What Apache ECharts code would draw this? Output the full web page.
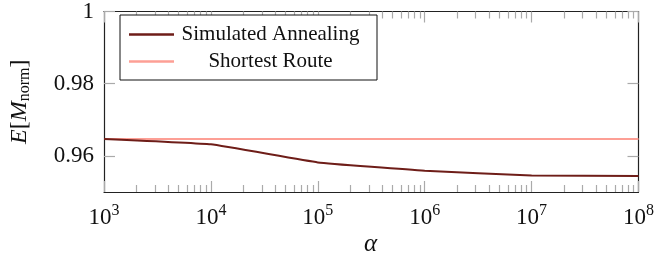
<!DOCTYPE html>
<html>
<head>
<meta charset="utf-8">
<script src="https://cdn.jsdelivr.net/npm/echarts@6/dist/echarts.min.js"></script>
<style>
  html, body { margin: 0; padding: 0; background: #fff; }
  #chart { width: 657px; height: 261px; }
</style>
</head>
<body>
<div id="chart"></div>
<script>
const alpha = [1e3, 1e4, 1e5, 1e6, 1e7, 1e8];
const simulatedAnnealing = [0.9647, 0.9632, 0.9582, 0.9559, 0.9546, 0.9544];
const shortestRoute = [0.9647, 0.9647, 0.9647, 0.9647, 0.9647, 0.9647];
const yTicks = [0.96, 0.98, 1];
const decades = [3, 4, 5, 6, 7];
const minorSteps = [2, 3, 4, 5, 6, 7, 8, 9];

// minor tick positions in log10 space
let minorTicks = [];
decades.forEach(d => {
  minorSteps.forEach(m => minorTicks.push(d + Math.log10(m)));
});

const font = "Liberation Serif";
const tickColor = "#aaaaaa";
const frameColor = "#222222";

const majorX = (pos, showLabel) => ({
  type: "log",
  logBase: 10,
  min: 1e3,
  max: 1e8,
  interval: 1,
  position: pos,
  axisLine: { show: true, onZero: false, lineStyle: { color: frameColor, width: 1.2 } },
  axisTick: { show: true, inside: true, length: 11, lineStyle: { color: tickColor, width: 1.2 } },
  splitLine: { show: false },
  minorTick: { show: false },
  axisLabel: {
    show: showLabel,
    margin: 11,
    fontFamily: font,
    color: "#111",
    formatter: v => "{b|10}{sup|" + Math.round(Math.log10(v)) + "}",
    rich: {
      b: { fontSize: 23, fontFamily: font, color: "#111" },
      sup: { fontSize: 16, fontFamily: font, color: "#111", padding: [0, 0, 13, 0] },
    },
  },
});

const minorX = (pos) => ({
  type: "value",
  min: 3,
  max: 8,
  position: pos,
  axisLine: { show: false },
  axisLabel: { show: false },
  splitLine: { show: false },
  axisTick: {
    show: true,
    inside: true,
    length: 7,
    customValues: minorTicks,
    lineStyle: { color: tickColor, width: 1.2 },
  },
});

const yAxisCfg = (pos, showLabel) => ({
  type: "value",
  min: 0.95,
  max: 1,
  position: pos,
  name: showLabel ? "{i|E}{n|[}{i|M}{sub|norm}{n|]}" : "",
  nameLocation: "middle",
  nameRotate: 90,
  nameGap: 71,
  nameTextStyle: {
    rich: {
      i: { fontSize: 24, fontFamily: font, fontStyle: "italic", color: "#111" },
      n: { fontSize: 24, fontFamily: font, color: "#111" },
      sub: { fontSize: 16, fontFamily: font, color: "#111", padding: [10, 0, 0, 0] },
    },
  },
  axisLine: { show: true, lineStyle: { color: frameColor, width: 1.2 } },
  axisTick: {
    show: true,
    inside: true,
    length: 11,
    customValues: yTicks,
    lineStyle: { color: tickColor, width: 1.2 },
  },
  splitLine: { show: false },
  axisLabel: {
    show: showLabel,
    customValues: yTicks,
    margin: 10,
    fontSize: 23,
    fontFamily: font,
    color: "#111",
    formatter: v => String(parseFloat(v.toFixed(2))),
  },
});

const option = {
  animation: false,
  backgroundColor: "#fff",
  grid: { left: 103, right: 15, top: 10, bottom: 69, containLabel: false },
  legend: {
    orient: "vertical",
    left: 120,
    top: 15,
    backgroundColor: "#fff",
    borderColor: "#111",
    borderWidth: 1,
    padding: [9, 15, 8, 9],
    itemGap: 6,
    itemWidth: 45,
    itemHeight: 2.5,
    icon: "rect",
    textStyle: { fontFamily: font, fontSize: 21, color: "#111" },
    formatter: name => "{c|" + name + "}",
    data: ["Simulated Annealing", "Shortest Route"],
  },
  xAxis: [majorX("bottom", true), minorX("bottom"), majorX("top", false), minorX("top")],
  yAxis: [yAxisCfg("left", true), yAxisCfg("right", false)],
  graphic: [
    {
      type: "text",
      left: 364,
      top: 232,
      style: { text: "α", fontSize: 25, fontFamily: font, fontStyle: "italic", fill: "#111" },
    },
  ],
  series: [
    {
      name: "Shortest Route",
      type: "line",
      xAxisIndex: 0,
      yAxisIndex: 0,
      symbol: "none",
      data: alpha.map((a, i) => [a, shortestRoute[i]]),
      lineStyle: { color: "#fd9f95", width: 2 },
      itemStyle: { color: "#fd9f95" },
    },
    {
      name: "Simulated Annealing",
      type: "line",
      xAxisIndex: 0,
      yAxisIndex: 0,
      symbol: "none",
      smooth: 0.1,
      data: alpha.map((a, i) => [a, simulatedAnnealing[i]]),
      lineStyle: { color: "#6e1d18", width: 2 },
      itemStyle: { color: "#6e1d18" },
    },
  ],
};
option.legend.textStyle.rich = {
  c: { width: 183, lineHeight: 24, align: "center", fontFamily: font, fontSize: 21, color: "#111" },
};

const myChart = echarts.init(document.getElementById("chart"));
myChart.setOption(option);
</script>
</body>
</html>
